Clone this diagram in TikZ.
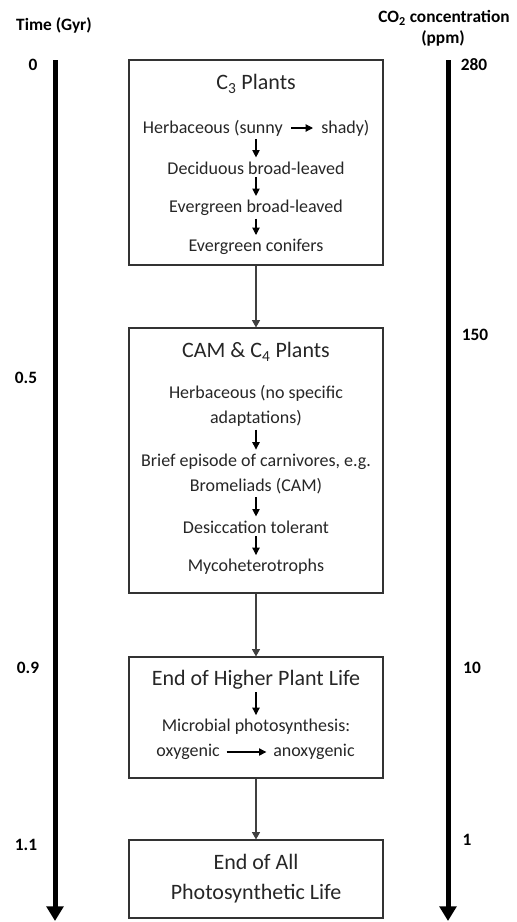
\documentclass[tikz,border=0pt]{standalone}
\usepackage{fontspec}
\setmainfont{Carlito}
\usetikzlibrary{arrows.meta}

\begin{document}
\begin{tikzpicture}[x=0.75pt, y=-0.75pt,
    every node/.style={inner sep=0pt, text=black!85},
    stagebox/.style={draw=black!80, line width=0.8pt},
    boxtitle/.style={font=\fontsize{16.5}{20}\selectfont},
    entry/.style={font=\fontsize{13.5}{19}\selectfont, align=center},
    axislabel/.style={font=\bfseries\fontsize{13}{15}\selectfont, text=black},
    axisline/.style={line width=3.75pt, -{Triangle[length=11pt, width=12.5pt]}},
    minor/.style={line width=0.8pt, -{Triangle[length=5.5pt, width=5.5pt]},
      shorten <=2pt, shorten >=3pt},
    inline/.style={minor, shorten <=6pt, shorten >=6pt},
    link/.style={draw=black!75, line width=0.8pt, -{Triangle[length=5.5pt, width=6pt]}}]
  \useasboundingbox (0,0) rectangle (517,922);
  % time axis (left) and CO2 axis (right)
  \coordinate (ttop) at (55,60);
  \coordinate (tend) at (55,921);
  \coordinate (ctop) at (448,60);
  \coordinate (cend) at (448,921);
  \draw[axisline] (ttop) -- (tend);
  \draw[axisline] (ctop) -- (cend);
  % axis labels
  \node[axislabel] (ttitle) at (54,25) {Time (Gyr)};
  \node[axislabel] (t0) at (33,65) {0};
  \node[axislabel] (t1) at (26,378) {0.5};
  \node[axislabel] (t2) at (28,668) {0.9};
  \node[axislabel] (t3) at (26,845) {1.1};
  \node[axislabel] (ctitle) at (444,18) {CO\textsubscript{2} concentration};
  \node[axislabel] (cunit) at (443,38) {(ppm)};
  \node[axislabel] (c0) at (474,65) {280};
  \node[axislabel] (c1) at (475,335) {150};
  \node[axislabel] (c2) at (472,668) {10};
  \node[axislabel] (c3) at (467,840) {1};

  % C3 plants
  \node[stagebox, minimum width=190.5pt, minimum height=153.75pt] (c3box) at (256,162.5) {};
  \node[boxtitle] (c3title) at (256,84) {C\textsubscript{3} Plants};
  \node[entry, anchor=east] (c3sunny) at (283,128) {Herbaceous (sunny};
  \node[entry, anchor=west] (c3shady) at (321,128) {shady)};
  \node[entry] (c3dec) at (256,168) {Deciduous broad-leaved};
  \node[entry] (c3ever) at (256,208) {Evergreen broad-leaved};
  \node[entry] (c3con) at (256,247) {Evergreen conifers};
  \draw[inline] (c3sunny) -- (c3shady);
  \draw[minor] (c3sunny.south -| c3dec.north) -- (c3dec.north);
  \draw[minor] (c3dec.south) -- (c3ever.north);
  \draw[minor] (c3ever.south) -- (c3con.north);

  % CAM and C4 plants
  \node[stagebox, minimum width=190.5pt, minimum height=198.75pt] (c4box) at (256,460.5) {};
  \node[boxtitle] (c4title) at (256,352) {CAM \& C\textsubscript{4} Plants};
  \node[entry] (c4herb) at (256,406) {Herbaceous (no specific\\adaptations)};
  \node[entry] (c4carn) at (256,474) {Brief episode of carnivores, e.g.\\Bromeliads (CAM)};
  \node[entry] (c4des) at (256,527) {Desiccation tolerant};
  \node[entry] (c4myc) at (256,567) {Mycoheterotrophs};
  \draw[minor] (c4herb.south) -- (c4carn.north);
  \draw[minor] (c4carn.south) -- (c4des.north);
  \draw[minor] (c4des.south) -- (c4myc.north);

  % end of higher plants
  \node[stagebox, minimum width=190.5pt, minimum height=90.75pt] (hpbox) at (256,717.5) {};
  \node[boxtitle] (hptitle) at (256,680) {End of Higher Plant Life};
  \node[entry] (hpmic) at (256,727) {Microbial photosynthesis:};
  \node[entry, anchor=east] (hpoxy) at (220,752) {oxygenic};
  \node[entry, anchor=west] (hpanoxy) at (273,752) {anoxygenic};
  \draw[minor] (hptitle.south) -- (hpmic.north);
  \draw[inline, shorten <=5pt, shorten >=5pt] (hpoxy) -- (hpanoxy);

  % end of all photosynthesis
  \node[stagebox, minimum width=190.5pt, minimum height=58.5pt] (allbox) at (256,879) {};
  \node[boxtitle, align=center, font=\fontsize{16.5}{22.5}\selectfont] (alltitle) at (256,879) {End of All\\Photosynthetic Life};

  % links between stages
  \draw[link] (c3box) -- (c4box);
  \draw[link] (c4box) -- (hpbox);
  \draw[link] (hpbox) -- (allbox);
\end{tikzpicture}
\end{document}
